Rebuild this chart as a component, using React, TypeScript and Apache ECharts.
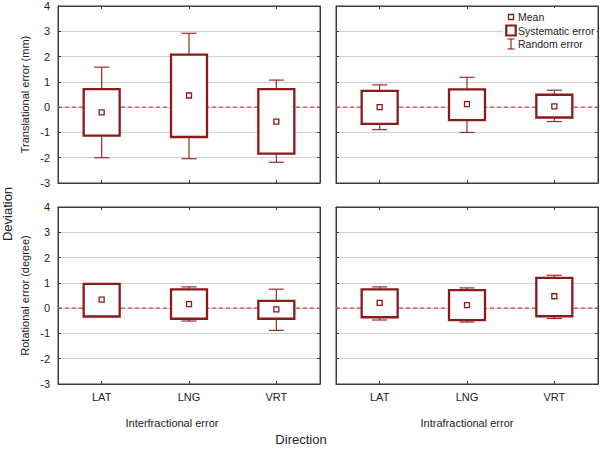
import React, { useEffect, useRef } from "react";
import * as echarts from "echarts";

const categories = ["LAT", "LNG", "VRT"];
const referenceLevel = [0];

// Translational error (mm), interfractional
const transInterMean = [-0.21, 0.46, -0.57];
const transInterSysLow = [-1.13, -1.18, -1.84];
const transInterSysHigh = [0.71, 2.08, 0.71];
const transInterRandLow = [-2.0, -2.04, -2.18];
const transInterRandHigh = [1.58, 2.92, 1.07];

// Translational error (mm), intrafractional
const transIntraMean = [0.0, 0.12, 0.03];
const transIntraSysLow = [-0.66, -0.51, -0.41];
const transIntraSysHigh = [0.64, 0.7, 0.49];
const transIntraRandLow = [-0.89, -1.0, -0.57];
const transIntraRandHigh = [0.88, 1.18, 0.67];

// Rotational error (degree), interfractional
const rotInterMean = [0.34, 0.16, -0.05];
const rotInterSysLow = [-0.33, -0.42, -0.42];
const rotInterSysHigh = [0.96, 0.74, 0.29];
const rotInterRandLow = [-0.25, -0.51, -0.88];
const rotInterRandHigh = [0.9, 0.84, 0.75];

// Rotational error (degree), intrafractional
const rotIntraMean = [0.21, 0.12, 0.47];
const rotIntraSysLow = [-0.36, -0.47, -0.32];
const rotIntraSysHigh = [0.74, 0.71, 1.2];
const rotIntraRandLow = [-0.47, -0.55, -0.41];
const rotIntraRandHigh = [0.84, 0.8, 1.3];

const FONT = "Arial, 'Liberation Sans', sans-serif";
const DARK_RED = "#8b1a1a";
const WHISKER = "#9a2c2c";
const AXIS = "#3c3c3c";

function build(mean: number[], sl: number[], sh: number[], rl: number[], rh: number[]) {
  return categories.map((_, i) => [i, mean[i], sl[i], sh[i], rl[i], rh[i]]);
}

const panels = [
  { data: build(transInterMean, transInterSysLow, transInterSysHigh, transInterRandLow, transInterRandHigh), left: 58, top: 6, yLabels: true, xLabels: false, yName: "Translational error (mm)" },
  { data: build(transIntraMean, transIntraSysLow, transIntraSysHigh, transIntraRandLow, transIntraRandHigh), left: 336, top: 6, yLabels: false, xLabels: false, yName: "" },
  { data: build(rotInterMean, rotInterSysLow, rotInterSysHigh, rotInterRandLow, rotInterRandHigh), left: 58, top: 207, yLabels: true, xLabels: true, yName: "Rotational error (degree)" },
  { data: build(rotIntraMean, rotIntraSysLow, rotIntraSysHigh, rotIntraRandLow, rotIntraRandHigh), left: 336, top: 207, yLabels: false, xLabels: true, yName: "" },
];

function renderItem(params: any, api: any) {
  const c = api.value(0);
  const x = api.coord([c, 0])[0];
  const y = (v: number) => api.coord([c, v])[1];
  const yMean = y(api.value(1));
  const ySl = y(api.value(2));
  const ySh = y(api.value(3));
  const yRl = y(api.value(4));
  const yRh = y(api.value(5));
  const bw = 18;
  const cw = 7.5;
  const ms = 2.5;
  const wStyle = { stroke: WHISKER, lineWidth: 1.2, fill: null };
  return {
    type: "group",
    children: [
      { type: "line", shape: { x1: x, y1: yRl, x2: x, y2: yRh }, style: wStyle },
      { type: "line", shape: { x1: x - cw, y1: yRh, x2: x + cw, y2: yRh }, style: wStyle },
      { type: "line", shape: { x1: x - cw, y1: yRl, x2: x + cw, y2: yRl }, style: wStyle },
      {
        type: "rect",
        shape: { x: x - bw, y: ySh, width: bw * 2, height: ySl - ySh },
        style: { fill: "#ffffff", stroke: DARK_RED, lineWidth: 2.3 },
      },
      {
        type: "rect",
        shape: { x: x - ms, y: yMean - ms, width: ms * 2, height: ms * 2 },
        style: { fill: "#ffffff", stroke: DARK_RED, lineWidth: 1.3 },
      },
    ],
  };
}

function renderZero(params: any, api: any) {
  const cs = params.coordSys;
  const y = api.coord([0, api.value(1)])[1];
  return {
    type: "line",
    shape: { x1: cs.x, y1: y, x2: cs.x + cs.width, y2: y },
    style: { stroke: "#e8403c", lineWidth: 1.1, lineDash: [4, 3], fill: null },
  };
}

export default function App() {
  const ref = useRef<HTMLDivElement>(null);
  useEffect(() => {
    if (!ref.current) return;
    const chart = echarts.init(ref.current, null, { renderer: "svg" });
    const grid: any[] = [];
    const xAxis: any[] = [];
    const yAxis: any[] = [];
    const series: any[] = [];
    panels.forEach((p, i) => {
      grid.push({
        left: p.left,
        top: p.top,
        width: 262,
        height: 177,
        show: true,
        borderColor: AXIS,
        borderWidth: 1,
        backgroundColor: "#ffffff",
      });
      const xBase = {
        type: "category",
        data: categories,
        gridIndex: i,
        boundaryGap: true,
        axisLine: { show: true, onZero: false, lineStyle: { color: AXIS, width: 1 } },
        axisTick: { show: true, inside: true, length: 3, alignWithLabel: true, lineStyle: { color: AXIS } },
        splitLine: { show: false },
      };
      xAxis.push({
        ...xBase,
        position: "bottom",
        axisLabel: { show: p.xLabels, color: "#222", fontSize: 11, fontFamily: FONT, margin: 7 },
      });
      xAxis.push({ ...xBase, position: "top", axisLabel: { show: false } });
      const yBase = {
        type: "value",
        gridIndex: i,
        min: -3,
        max: 4,
        interval: 1,
        axisLine: { show: true, onZero: false, lineStyle: { color: AXIS, width: 1 } },
        axisTick: { show: true, inside: true, length: 3, lineStyle: { color: AXIS } },
      };
      yAxis.push({
        ...yBase,
        position: "left",
        splitLine: { show: true, lineStyle: { color: "#d2d2d2", width: 1 } },
        axisLabel: { show: p.yLabels, color: "#222", fontSize: 11, fontFamily: FONT, margin: 8 },
        name: p.yName,
        nameLocation: "middle",
        nameGap: 28,
        nameRotate: 90,
        nameTextStyle: { color: "#222", fontSize: 11, fontFamily: FONT },
      });
      yAxis.push({ ...yBase, position: "right", splitLine: { show: false }, axisLabel: { show: false } });
      series.push({
        type: "custom",
        xAxisIndex: i * 2,
        yAxisIndex: i * 2,
        renderItem: renderZero,
        encode: { x: 0, y: 1 },
        data: referenceLevel.map((v) => [0, v]),
        z: 3,
        silent: true,
        clip: false,
      });
      series.push({
        type: "custom",
        xAxisIndex: i * 2,
        yAxisIndex: i * 2,
        renderItem,
        encode: { x: 0, y: [1, 2, 3, 4, 5] },
        data: p.data,
        z: 5,
        silent: true,
      });
    });

    const lx = 511;
    const graphic: any[] = [
      { type: "rect", shape: { x: 503, y: 8, width: 94, height: 44 }, style: { fill: "#ffffff" }, z: 10 },
      { type: "rect", shape: { x: lx - 2.5, y: 17 - 2.5, width: 5, height: 5 }, style: { fill: "#fff", stroke: DARK_RED, lineWidth: 1.3 }, z: 11 },
      { type: "rect", shape: { x: lx - 4.7, y: 25.5, width: 9.4, height: 10 }, style: { fill: "#fff", stroke: DARK_RED, lineWidth: 2.2 }, z: 11 },
      { type: "line", shape: { x1: lx, y1: 39, x2: lx, y2: 49 }, style: { stroke: WHISKER, lineWidth: 1.2 }, z: 11 },
      { type: "line", shape: { x1: lx - 3.5, y1: 39, x2: lx + 3.5, y2: 39 }, style: { stroke: WHISKER, lineWidth: 1.2 }, z: 11 },
      { type: "line", shape: { x1: lx - 3.5, y1: 49, x2: lx + 3.5, y2: 49 }, style: { stroke: WHISKER, lineWidth: 1.2 }, z: 11 },
      { type: "text", x: 518, y: 17, style: { text: "Mean", fill: "#222", font: `10.5px ${FONT}`, verticalAlign: "middle" }, z: 11 },
      { type: "text", x: 518, y: 31, style: { text: "Systematic error", fill: "#222", font: `10.5px ${FONT}`, verticalAlign: "middle" }, z: 11 },
      { type: "text", x: 518, y: 44, style: { text: "Random error", fill: "#222", font: `10.5px ${FONT}`, verticalAlign: "middle" }, z: 11 },
      { type: "text", x: 172, y: 423, style: { text: "Interfractional error", fill: "#222", font: `11px ${FONT}`, align: "center", verticalAlign: "middle" } },
      { type: "text", x: 467, y: 423, style: { text: "Intrafractional error", fill: "#222", font: `11px ${FONT}`, align: "center", verticalAlign: "middle" } },
      { type: "text", x: 301, y: 439, style: { text: "Direction", fill: "#222", font: `13px ${FONT}`, align: "center", verticalAlign: "middle" } },
      { type: "text", x: 7, y: 214, rotation: Math.PI / 2, style: { text: "Deviation", fill: "#222", font: `13px ${FONT}`, align: "center", verticalAlign: "middle" } },
    ];

    chart.setOption({
      animation: false,
      backgroundColor: "#ffffff",
      grid,
      xAxis,
      yAxis,
      series,
      graphic,
    });
    return () => chart.dispose();
  }, []);
  return (
    <div
      ref={ref}
      style={{ position: "absolute", left: 0, top: 0, width: 600, height: 449 }}
    />
  );
}
